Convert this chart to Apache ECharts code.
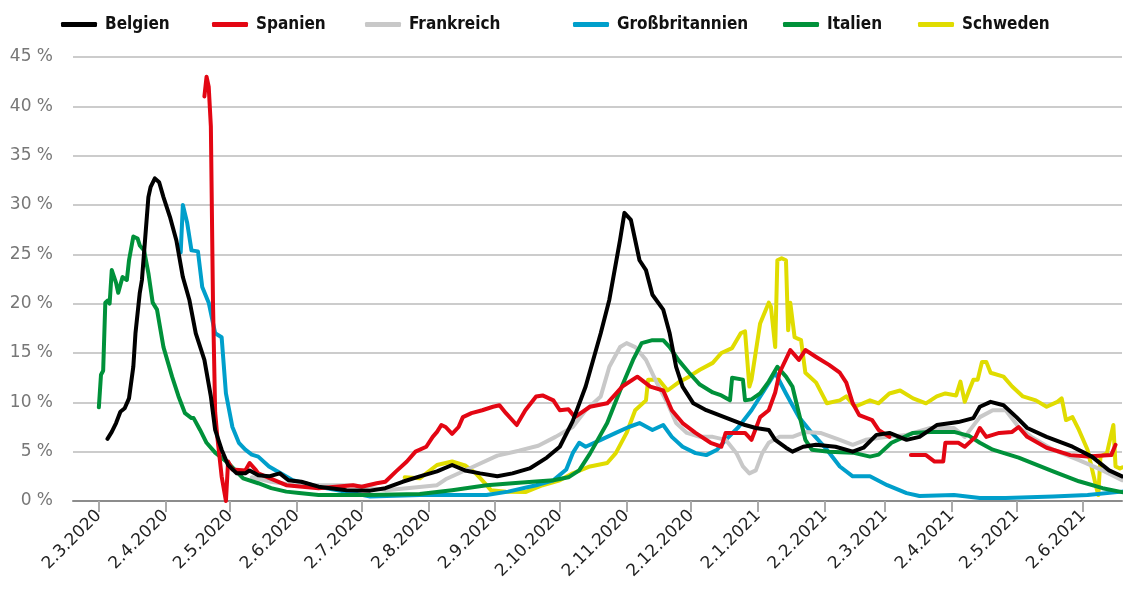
<!DOCTYPE html>
<html>
<head>
<meta charset="utf-8">
<script src="https://cdn.jsdelivr.net/npm/echarts@6/dist/echarts.min.js"></script>
<style>
  html, body { margin: 0; padding: 0; background: #fff; }
  #chart { width: 1123px; height: 595px; }
</style>
</head>
<body>
<div id="chart"></div>
<script>
// Anteil in %
const countries = ['Belgien', 'Spanien', 'Frankreich', 'Großbritannien', 'Italien', 'Schweden'];
const colors = ['#000000', '#e30613', '#c8c8c8', '#009fcb', '#00913a', '#e0dc00'];

const belgien = [
  ['2020-03-06', 6.3], ['2020-03-08', 7.0], ['2020-03-10', 7.9], ['2020-03-12', 9.05], ['2020-03-14', 9.4],
  ['2020-03-16', 10.4], ['2020-03-18', 13.6], ['2020-03-19', 17.0], ['2020-03-21', 21.1], ['2020-03-22', 22.4],
  ['2020-03-25', 30.8], ['2020-03-26', 31.8], ['2020-03-28', 32.7], ['2020-03-30', 32.3], ['2020-04-01', 30.8],
  ['2020-04-04', 28.8], ['2020-04-07', 26.4], ['2020-04-10', 22.7], ['2020-04-13', 20.4], ['2020-04-16', 17.0],
  ['2020-04-20', 14.3], ['2020-04-23', 10.6], ['2020-04-25', 7.2], ['2020-04-28', 5.2], ['2020-05-01', 3.65],
  ['2020-05-05', 2.8], ['2020-05-09', 2.8], ['2020-05-11', 3.1], ['2020-05-15', 2.6], ['2020-05-20', 2.5],
  ['2020-05-25', 2.8], ['2020-05-29', 2.1], ['2020-06-04', 1.95], ['2020-06-12', 1.45], ['2020-06-25', 1.1],
  ['2020-07-06', 1.05], ['2020-07-13', 1.3], ['2020-07-21', 1.95], ['2020-07-29', 2.5], ['2020-08-06', 3.0],
  ['2020-08-13', 3.65], ['2020-08-19', 3.1], ['2020-08-26', 2.8], ['2020-09-03', 2.5], ['2020-09-10', 2.8],
  ['2020-09-18', 3.3], ['2020-09-26', 4.4], ['2020-10-02', 5.5], ['2020-10-08', 8.1], ['2020-10-14', 11.6],
  ['2020-10-21', 17.0], ['2020-10-25', 20.4], ['2020-10-30', 26.5], ['2020-11-01', 29.2], ['2020-11-04', 28.5],
  ['2020-11-08', 24.4], ['2020-11-11', 23.4], ['2020-11-14', 20.9], ['2020-11-19', 19.4], ['2020-11-22', 17.0],
  ['2020-11-25', 13.6], ['2020-11-28', 11.6], ['2020-12-03', 9.9], ['2020-12-09', 9.2], ['2020-12-15', 8.7],
  ['2020-12-21', 8.2], ['2020-12-27', 7.7], ['2021-01-01', 7.4], ['2021-01-07', 7.2], ['2021-01-10', 6.2],
  ['2021-01-15', 5.4], ['2021-01-18', 5.0], ['2021-01-23', 5.5], ['2021-01-29', 5.7], ['2021-02-07', 5.5],
  ['2021-02-15', 5.0], ['2021-02-20', 5.4], ['2021-02-26', 6.7], ['2021-03-04', 6.9], ['2021-03-12', 6.2],
  ['2021-03-18', 6.5], ['2021-03-26', 7.7], ['2021-04-05', 8.0], ['2021-04-12', 8.4], ['2021-04-15', 9.55],
  ['2021-04-20', 10.05], ['2021-04-26', 9.7], ['2021-05-02', 8.5], ['2021-05-07', 7.4], ['2021-05-16', 6.5],
  ['2021-05-28', 5.5], ['2021-06-06', 4.5], ['2021-06-14', 3.1], ['2021-06-20', 2.5]
];

const spanien = [
  ['2020-04-20', 41.0], ['2020-04-21', 43.0], ['2020-04-22', 42.0], ['2020-04-23', 38.0], ['2020-04-24', 20.0],
  ['2020-04-25', 9.0], ['2020-04-26', 6.5], ['2020-04-28', 2.5], ['2020-04-30', 0.0], ['2020-05-01', 4.0],
  ['2020-05-03', 3.2], ['2020-05-09', 3.1], ['2020-05-11', 3.85], ['2020-05-14', 3.1], ['2020-05-15', 2.8],
  ['2020-05-28', 1.6], ['2020-06-12', 1.3], ['2020-06-28', 1.6], ['2020-07-02', 1.45], ['2020-07-09', 1.8],
  ['2020-07-13', 1.95], ['2020-07-18', 3.0], ['2020-07-23', 4.0], ['2020-07-27', 5.0], ['2020-08-01', 5.5],
  ['2020-08-04', 6.5], ['2020-08-06', 7.0], ['2020-08-08', 7.7], ['2020-08-10', 7.5], ['2020-08-13', 6.8],
  ['2020-08-16', 7.5], ['2020-08-18', 8.5], ['2020-08-22', 8.9], ['2020-08-27', 9.2], ['2020-09-01', 9.55],
  ['2020-09-04', 9.7], ['2020-09-07', 8.9], ['2020-09-12', 7.7], ['2020-09-16', 9.2], ['2020-09-21', 10.6],
  ['2020-09-24', 10.7], ['2020-09-29', 10.2], ['2020-10-02', 9.2], ['2020-10-06', 9.3], ['2020-10-09', 8.5],
  ['2020-10-16', 9.55], ['2020-10-24', 9.9], ['2020-10-31', 11.6], ['2020-11-07', 12.6], ['2020-11-13', 11.6],
  ['2020-11-19', 11.2], ['2020-11-23', 9.2], ['2020-11-28', 7.9], ['2020-12-04', 6.9], ['2020-12-11', 5.9],
  ['2020-12-16', 5.5], ['2020-12-18', 6.9], ['2020-12-27', 6.9], ['2020-12-30', 6.2], ['2021-01-03', 8.5],
  ['2021-01-07', 9.2], ['2021-01-10', 11.0], ['2021-01-12', 13.0], ['2021-01-17', 15.3], ['2021-01-21', 14.3],
  ['2021-01-24', 15.3], ['2021-01-29', 14.6], ['2021-02-04', 13.8], ['2021-02-09', 13.0], ['2021-02-12', 12.0],
  ['2021-02-15', 9.9], ['2021-02-18', 8.7], ['2021-02-24', 8.2], ['2021-02-27', 7.2], ['2021-03-04', 6.5],
  ['2021-03-08', null],
  ['2021-03-14', 4.65], ['2021-03-21', 4.65], ['2021-03-25', 4.0], ['2021-03-29', 4.0], ['2021-03-30', 5.9],
  ['2021-04-05', 5.9], ['2021-04-08', 5.5], ['2021-04-13', 6.5], ['2021-04-15', 7.4], ['2021-04-18', 6.5],
  ['2021-04-24', 6.9], ['2021-04-30', 7.0], ['2021-05-03', 7.5], ['2021-05-07', 6.5], ['2021-05-16', 5.4],
  ['2021-05-27', 4.65], ['2021-06-04', 4.5], ['2021-06-15', 4.65], ['2021-06-17', 5.7]
];

const frankreich = [
  ['2020-05-12', 2.4], ['2020-05-21', 1.95], ['2020-06-01', 1.6], ['2020-06-12', 1.6], ['2020-06-28', 1.6],
  ['2020-07-13', 1.1], ['2020-07-23', 1.3], ['2020-08-06', 1.6], ['2020-08-10', 2.2], ['2020-08-22', 3.4],
  ['2020-09-03', 4.6], ['2020-09-13', 5.1], ['2020-09-22', 5.6], ['2020-09-30', 6.5], ['2020-10-08', 7.5],
  ['2020-10-14', 9.2], ['2020-10-21', 10.6], ['2020-10-25', 13.6], ['2020-10-30', 15.6], ['2020-11-02', 16.0],
  ['2020-11-06', 15.6], ['2020-11-11', 14.3], ['2020-11-16', 12.0], ['2020-11-21', 9.9], ['2020-11-25', 7.9],
  ['2020-11-30', 6.9], ['2020-12-06', 6.5], ['2020-12-12', 6.5], ['2020-12-18', 6.2], ['2020-12-23', 4.85],
  ['2020-12-26', 3.5], ['2020-12-29', 2.8], ['2021-01-01', 3.1], ['2021-01-04', 4.85], ['2021-01-07', 5.9],
  ['2021-01-12', 6.5], ['2021-01-18', 6.5], ['2021-01-24', 7.0], ['2021-01-31', 6.9], ['2021-02-09', 6.2],
  ['2021-02-15', 5.7], ['2021-02-21', 6.2], ['2021-03-03', 6.5], ['2021-03-12', 6.7], ['2021-03-23', 7.4],
  ['2021-04-03', 7.4], ['2021-04-08', 6.5], ['2021-04-15', 8.5], ['2021-04-21', 9.2], ['2021-04-27', 9.2],
  ['2021-05-03', 7.5], ['2021-05-09', 6.5], ['2021-05-19', 5.2], ['2021-05-31', 4.15], ['2021-06-11', 3.1],
  ['2021-06-20', 2.1]
];

const grossbritannien = [
  ['2020-04-09', 25.2], ['2020-04-10', 30.0], ['2020-04-12', 28.2], ['2020-04-14', 25.4], ['2020-04-17', 25.3],
  ['2020-04-19', 21.7], ['2020-04-22', 20.1], ['2020-04-25', 17.0], ['2020-04-28', 16.6], ['2020-04-30', 10.9],
  ['2020-05-03', 7.5], ['2020-05-06', 5.9], ['2020-05-09', 5.2], ['2020-05-12', 4.7], ['2020-05-15', 4.5],
  ['2020-05-20', 3.5], ['2020-05-31', 2.1], ['2020-06-12', 1.45], ['2020-06-28', 0.8], ['2020-07-06', 0.45],
  ['2020-07-29', 0.6], ['2020-08-29', 0.6], ['2020-09-08', 0.95], ['2020-09-21', 1.6], ['2020-09-29', 2.1],
  ['2020-10-05', 3.2], ['2020-10-08', 4.85], ['2020-10-11', 5.9], ['2020-10-14', 5.5], ['2020-10-21', 6.2],
  ['2020-10-28', 6.9], ['2020-11-03', 7.5], ['2020-11-08', 7.9], ['2020-11-14', 7.2], ['2020-11-19', 7.7],
  ['2020-11-23', 6.5], ['2020-11-28', 5.5], ['2020-12-04', 4.85], ['2020-12-09', 4.65], ['2020-12-14', 5.2],
  ['2020-12-18', 6.2], ['2020-12-24', 7.5], ['2020-12-30', 9.2], ['2021-01-06', 11.6], ['2021-01-10', 13.0],
  ['2021-01-15', 10.9], ['2021-01-21', 8.5], ['2021-01-27', 6.9], ['2021-02-03', 5.2], ['2021-02-09', 3.5],
  ['2021-02-15', 2.5], ['2021-02-23', 2.5], ['2021-03-03', 1.6], ['2021-03-12', 0.8], ['2021-03-18', 0.5],
  ['2021-04-03', 0.6], ['2021-04-15', 0.3], ['2021-04-27', 0.3], ['2021-05-19', 0.45], ['2021-06-04', 0.6],
  ['2021-06-20', 0.95]
];

const italien = [
  ['2020-03-02', 9.5], ['2020-03-03', 12.8], ['2020-03-04', 13.2], ['2020-03-05', 20.1], ['2020-03-06', 20.3],
  ['2020-03-07', 20.0], ['2020-03-08', 23.4], ['2020-03-10', 22.1], ['2020-03-11', 21.1], ['2020-03-13', 22.7],
  ['2020-03-15', 22.4], ['2020-03-16', 24.4], ['2020-03-18', 26.8], ['2020-03-20', 26.6], ['2020-03-21', 25.9],
  ['2020-03-23', 25.4], ['2020-03-25', 23.1], ['2020-03-27', 20.1], ['2020-03-29', 19.4], ['2020-04-01', 15.6],
  ['2020-04-05', 12.6], ['2020-04-08', 10.6], ['2020-04-11', 8.9], ['2020-04-14', 8.4], ['2020-04-15', 8.4],
  ['2020-04-18', 7.2], ['2020-04-21', 5.9], ['2020-04-25', 4.9], ['2020-05-01', 3.85], ['2020-05-08', 2.3],
  ['2020-05-15', 1.8], ['2020-05-21', 1.3], ['2020-05-28', 0.95], ['2020-06-03', 0.8], ['2020-06-12', 0.6],
  ['2020-07-05', 0.6], ['2020-07-29', 0.7], ['2020-08-13', 1.1], ['2020-08-29', 1.6], ['2020-09-13', 1.85],
  ['2020-09-29', 2.1], ['2020-10-06', 2.4], ['2020-10-11', 3.1], ['2020-10-16', 4.8], ['2020-10-24', 7.9],
  ['2020-10-30', 11.2], ['2020-11-05', 14.3], ['2020-11-09', 16.0], ['2020-11-14', 16.3], ['2020-11-19', 16.3],
  ['2020-11-22', 15.6], ['2020-11-26', 14.3], ['2020-12-01', 13.0], ['2020-12-06', 11.8], ['2020-12-12', 11.0],
  ['2020-12-16', 10.7], ['2020-12-20', 10.2], ['2020-12-21', 12.5], ['2020-12-26', 12.3], ['2020-12-27', 10.2],
  ['2020-12-30', 10.3], ['2021-01-03', 10.9], ['2021-01-07', 12.1], ['2021-01-11', 13.6], ['2021-01-15', 12.6],
  ['2021-01-18', 11.6], ['2021-01-21', 8.9], ['2021-01-24', 6.2], ['2021-01-27', 5.2], ['2021-02-04', 5.0],
  ['2021-02-15', 4.9], ['2021-02-23', 4.5], ['2021-02-27', 4.7], ['2021-03-05', 5.9], ['2021-03-15', 6.9],
  ['2021-03-23', 7.0], ['2021-04-03', 7.0], ['2021-04-10', 6.6], ['2021-04-15', 5.9], ['2021-04-21', 5.2],
  ['2021-05-03', 4.4], ['2021-05-19', 3.0], ['2021-05-31', 2.0], ['2021-06-11', 1.3], ['2021-06-20', 0.9]
];

const schweden = [
  ['2020-07-22', 2.4], ['2020-07-29', 2.3], ['2020-08-06', 3.65], ['2020-08-13', 4.0], ['2020-08-19', 3.6],
  ['2020-08-24', 2.8], ['2020-08-29', 1.6], ['2020-08-31', 1.1], ['2020-09-07', 0.95], ['2020-09-16', 0.9],
  ['2020-09-24', 1.6], ['2020-10-02', 2.1], ['2020-10-08', 2.8], ['2020-10-16', 3.5], ['2020-10-24', 3.85],
  ['2020-10-28', 4.85], ['2020-11-02', 6.9], ['2020-11-06', 9.2], ['2020-11-11', 10.2], ['2020-11-12', 12.3],
  ['2020-11-17', 12.3], ['2020-11-21', 11.2], ['2020-11-26', 12.0], ['2020-12-01', 12.6], ['2020-12-06', 13.3],
  ['2020-12-12', 14.0], ['2020-12-16', 15.0], ['2020-12-21', 15.5], ['2020-12-25', 17.0], ['2020-12-27', 17.2],
  ['2020-12-29', 11.6], ['2020-12-30', 12.3], ['2021-01-03', 18.0], ['2021-01-07', 20.1], ['2021-01-08', 19.7],
  ['2021-01-10', 15.6], ['2021-01-11', 24.4], ['2021-01-13', 24.6], ['2021-01-15', 24.4], ['2021-01-16', 17.3],
  ['2021-01-17', 20.1], ['2021-01-19', 16.6], ['2021-01-22', 16.3], ['2021-01-24', 13.0], ['2021-01-29', 12.0],
  ['2021-02-03', 9.9], ['2021-02-09', 10.2], ['2021-02-12', 10.6], ['2021-02-16', 9.55], ['2021-02-23', 10.2],
  ['2021-02-27', 9.9], ['2021-03-04', 10.9], ['2021-03-09', 11.2], ['2021-03-15', 10.4], ['2021-03-21', 9.9],
  ['2021-03-26', 10.6], ['2021-03-30', 10.9], ['2021-04-04', 10.7], ['2021-04-06', 12.1], ['2021-04-08', 10.05],
  ['2021-04-10', 11.2], ['2021-04-12', 12.3], ['2021-04-14', 12.3], ['2021-04-16', 14.1], ['2021-04-18', 14.1],
  ['2021-04-20', 13.0], ['2021-04-26', 12.6], ['2021-04-30', 11.6], ['2021-05-05', 10.6], ['2021-05-11', 10.2],
  ['2021-05-16', 9.55], ['2021-05-21', 10.05], ['2021-05-23', 10.4], ['2021-05-25', 8.2], ['2021-05-28', 8.5],
  ['2021-05-31', 7.2], ['2021-06-04', 5.2], ['2021-06-08', 1.45], ['2021-06-09', 0.6], ['2021-06-10', 4.5],
  ['2021-06-13', 4.85], ['2021-06-16', 7.7], ['2021-06-17', 3.5], ['2021-06-19', 3.3], ['2021-06-20', 3.4]
];

const seriesData = [belgien, spanien, frankreich, grossbritannien, italien, schweden];
const yTicks = [0, 5, 10, 15, 20, 25, 30, 35, 40, 45];

// Tage der x-Achse (Kategorien), Beschriftung nur am 2. jedes Monats
const firstDay = '2020-02-19';
const lastDay = '2021-06-20';
let days = [];
for (let d = new Date(firstDay + 'T00:00:00Z'); d <= new Date(lastDay + 'T00:00:00Z'); d.setUTCDate(d.getUTCDate() + 1)) {
  days.push(d.toISOString().slice(0, 10));
}
function isTickDay(index, value) {
  return value.slice(8, 10) === '02';
}
function fmtDate(value) {
  let p = value.split('-');
  return parseInt(p[2]) + '.' + parseInt(p[1]) + '.' + p[0];
}

let chartDom = document.getElementById('chart');
let myChart = echarts.init(chartDom);
let option;

const legendLeft = [61, 212, 365, 573, 783, 918];
const zOrder = [10, 6, 4, 3, 5, 2];

option = {
  animation: false,
  backgroundColor: '#fff',
  legend: countries.map((name, i) => ({
    data: [name],
    left: legendLeft[i],
    top: 16,
    padding: 0,
    icon: 'roundRect',
    itemWidth: 36,
    itemHeight: 5,
    textStyle: {
      fontFamily: '"DejaVu Sans Condensed", "DejaVu Sans", sans-serif',
      fontWeight: 'bold',
      fontSize: 17,
      color: '#111',
      padding: [0, 0, 0, 3]
    }
  })),
  grid: {
    left: 73,
    right: 1,
    top: 57,
    bottom: 94
  },
  xAxis: {
    type: 'category',
    data: days,
    boundaryGap: false,
    axisLine: { lineStyle: { color: '#8c8c8c', width: 2 } },
    axisTick: {
      interval: isTickDay,
      length: 11,
      lineStyle: { color: '#aaaaaa', width: 2 }
    },
    axisLabel: {
      interval: isTickDay,
      rotate: 45,
      margin: 12,
      formatter: fmtDate,
      fontFamily: '"DejaVu Sans", sans-serif',
      fontSize: 17,
      color: '#222'
    },
    splitLine: { show: false }
  },
  yAxis: {
    type: 'value',
    min: yTicks[0],
    max: yTicks[yTicks.length - 1],
    interval: 5,
    axisLine: { show: false },
    axisTick: { show: false },
    axisLabel: {
      formatter: '{value} %',
      margin: 20,
      fontFamily: '"DejaVu Sans", sans-serif',
      fontSize: 17,
      color: '#777'
    },
    splitLine: { lineStyle: { color: '#cccccc', width: 2 } }
  },
  series: countries.map((name, i) => ({
    name: name,
    type: 'line',
    data: seriesData[i],
    showSymbol: false,
    symbol: 'none',
    z: zOrder[i],
    color: colors[i],
    lineStyle: { width: 4, color: colors[i], join: 'round', cap: 'round' }
  }))
};

option && myChart.setOption(option);
</script>
</body>
</html>
